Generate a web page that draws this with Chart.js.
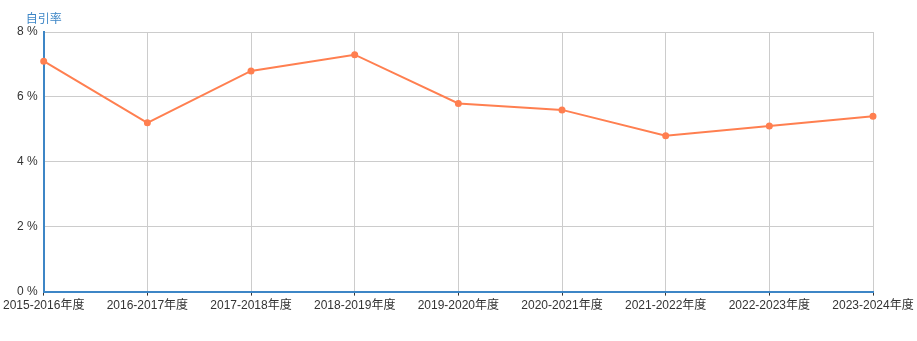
<!DOCTYPE html>
<html>
<head>
<meta charset="utf-8">
<script src="https://cdn.jsdelivr.net/npm/chart.js@4/dist/chart.umd.min.js"></script>
<style>
  html, body { margin: 0; padding: 0; background: #fff; }
  #wrap { width: 917px; height: 341px; }
</style>
</head>
<body>
<div id="wrap"><canvas id="chart"></canvas></div>
<script>
// 数据
const years = ['2015-2016年度', '2016-2017年度', '2017-2018年度', '2018-2019年度', '2019-2020年度',
               '2020-2021年度', '2021-2022年度', '2022-2023年度', '2023-2024年度'];
const selfCiteRate = [7.1, 5.2, 6.8, 7.3, 5.8, 5.6, 4.8, 5.1, 5.4];
const axisName = '自引率';

const FONT = "'Liberation Sans', 'Noto Sans CJK SC', sans-serif";
const BLUE = '#3d86c6';

// y轴名称画在轴顶端
const axisTitle = {
    id: 'axisTitle',
    afterDraw(chart) {
        const ctx = chart.ctx;
        const area = chart.chartArea;
        ctx.save();
        ctx.font = '12px ' + FONT;
        ctx.fillStyle = BLUE;
        ctx.textAlign = 'left';
        ctx.textBaseline = 'middle';
        ctx.fillText(axisName, area.left - 18, area.top - 12);
        ctx.restore();
    }
};

new Chart(document.getElementById('chart'), {
    type: 'line',
    data: {
        labels: years,
        datasets: [{
            label: axisName,
            data: selfCiteRate,
            borderColor: '#ff7f50',
            backgroundColor: '#ff7f50',
            borderWidth: 2,
            pointRadius: 2.5,
            pointHoverRadius: 4,
            tension: 0
        }]
    },
    options: {
        responsive: true,
        maintainAspectRatio: false,
        animation: false,
        layout: { padding: { top: 32, right: 44, bottom: 25, left: 0 } },
        plugins: {
            legend: { display: false },
            tooltip: { enabled: false }
        },
        scales: {
            x: {
                grid: { color: '#cccccc', tickColor: '#333', tickLength: 4 },
                border: { color: BLUE, width: 2 },
                ticks: { color: '#333', font: { family: FONT, size: 12 }, maxRotation: 0, autoSkip: false, padding: 3 }
            },
            y: {
                min: 0,
                max: 8,
                afterFit(scale) { scale.width = 43; },
                grid: { color: '#cccccc', drawTicks: false },
                border: { color: BLUE, width: 2 },
                ticks: {
                    stepSize: 2,
                    color: '#333',
                    padding: 6,
                    font: { family: FONT, size: 12 },
                    callback: v => v + ' %'
                }
            }
        }
    },
    plugins: [axisTitle]
});
</script>
</body>
</html>
